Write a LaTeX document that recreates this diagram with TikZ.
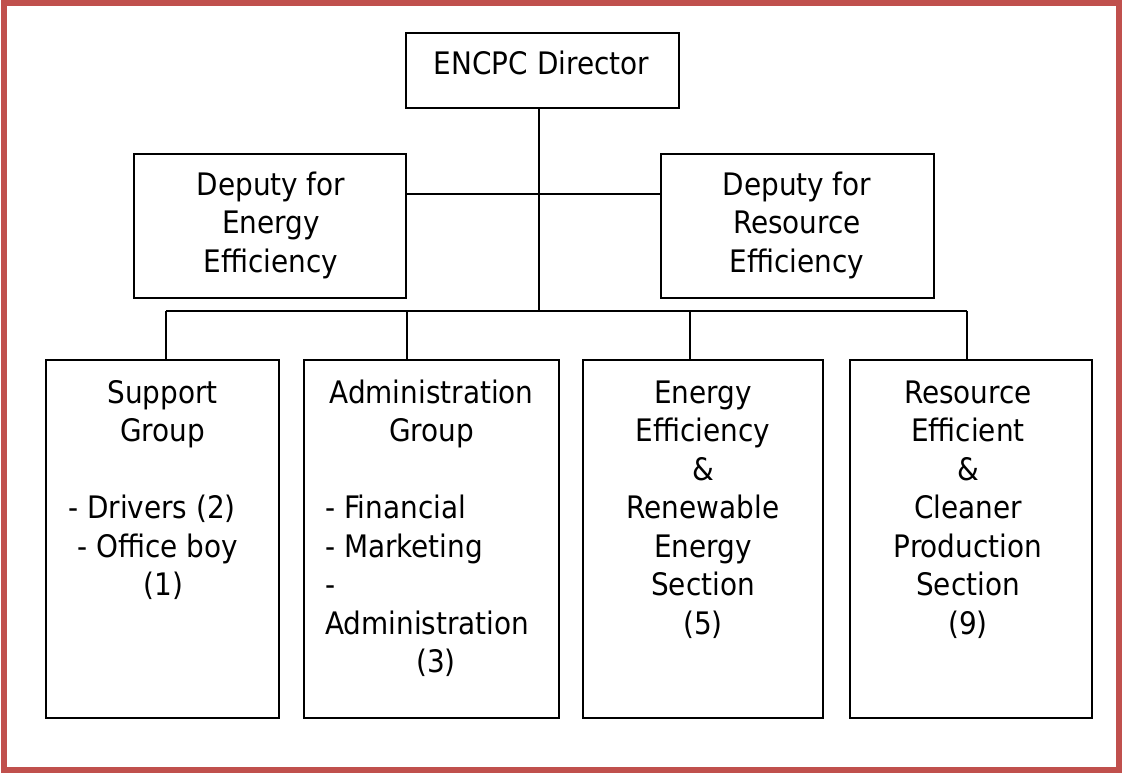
\documentclass[tikz,border=0pt]{standalone}
\usepackage{fontspec}
\setmainfont{DejaVu Sans Condensed}
\definecolor{frame}{HTML}{C0504D}
\begin{document}
\begin{tikzpicture}[x=1pt,y=-1pt,
  box/.style={draw=black,line width=2pt,inner sep=0pt,fill=white},
  conn/.style={draw=black,line width=1.5pt},
  txt/.style={inner sep=0pt,anchor=base,font=\fontsize{31}{38.5}\selectfont},
  txtl/.style={txt,anchor=base west}]
\useasboundingbox (0,0) rectangle (1122,773);
\draw[frame,line width=6pt] (4,3) rectangle (1119,770);
% boxes
\node[box,minimum width=273pt,minimum height=75pt] (dir) at (542.5,70.5) {};
\node[box,minimum width=272pt,minimum height=144pt] (depL) at (270,226) {};
\node[box,minimum width=273pt,minimum height=144pt] (depR) at (797.5,226) {};
\node[box,minimum width=233pt,minimum height=358pt] (sup) at (162.5,539) {};
\node[box,minimum width=255pt,minimum height=358pt] (adm) at (431.5,539) {};
\node[box,minimum width=240pt,minimum height=358pt] (ene) at (703,539) {};
\node[box,minimum width=242pt,minimum height=358pt] (res) at (971,539) {};
% connectors
\coordinate (busC) at (539,311);
\coordinate (hj) at (539,194);
\coordinate (d1) at (166,311);
\coordinate (d2) at (407,311);
\coordinate (d3) at (690,311);
\coordinate (d4) at (967,311);
\draw[conn] (dir.south -| busC) -- (busC);
\draw[conn] (hj -| depL.east) -- (hj -| depR.west);
\draw[conn] (d1) -- (d4);
\draw[conn] (d1) -- (d1 |- sup.north);
\draw[conn] (d2) -- (d2 |- adm.north);
\draw[conn] (d3) -- (d3 |- ene.north);
\draw[conn] (d4) -- (d4 |- res.north);
% texts
\node[txt] (tdir) at (541.5,75) {ENCPC Director};
\foreach \t [count=\i] in {Deputy for,Energy,Efficiency}
  \node[txt] (tdl\i) at (271,{195+(\i-1)*38.5}) {\t};
\foreach \t [count=\i] in {Deputy for,Resource,Efficiency}
  \node[txt] (tdr\i) at (797,{195+(\i-1)*38.5}) {\t};
\node[txt] (ts1) at (162.5,403) {Support};
\node[txt] (ts2) at (162.5,441.5) {Group};
\node[txt] (ts3) at (152,518.5) {- Drivers (2)};
\node[txt] (ts4) at (158,557) {- Office boy};
\node[txt] (ts5) at (163.5,595.5) {(1)};
\node[txt] (ta1) at (431.5,403) {Administration};
\node[txt] (ta2) at (431.5,441.5) {Group};
\foreach \t [count=\i] in {- Financial,- Marketing,-,Administration}
  \node[txtl] (tal\i) at (325,{518.5+(\i-1)*38.5}) {\t};
\node[txt] (ta3) at (436,672.5) {(3)};
\foreach \t [count=\i] in {Energy,Efficiency,\&,Renewable,Energy,Section,(5)}
  \node[txt] (te\i) at (703,{403+(\i-1)*38.5}) {\t};
\foreach \t [count=\i] in {Resource,Efficient,\&,Cleaner,Production,Section,(9)}
  \node[txt] (tr\i) at (968,{403+(\i-1)*38.5}) {\t};
\end{tikzpicture}
\end{document}
